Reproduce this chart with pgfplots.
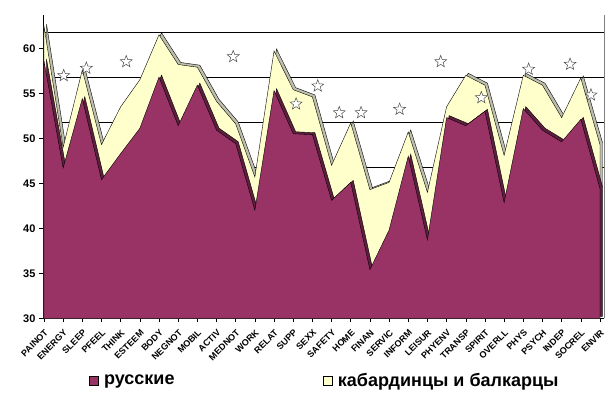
\documentclass[border=0pt]{standalone}
\usepackage{fontspec}
\setmainfont{Liberation Sans}
\usepackage{pgfplots}
\pgfplotsset{compat=1.18}
\usepackage{pgfplotstable}
\definecolor{plum}{HTML}{993366}
\definecolor{plumdark}{HTML}{5E1F3F}
\definecolor{lyellow}{HTML}{FFFFCC}
\definecolor{bandgrey}{HTML}{BEBEAE}
\pgfdeclareplotmark{ostar}{%
  \pgfpathmoveto{\pgfpointpolar{90}{\pgfplotmarksize}}%
  \pgfpathlineto{\pgfpointpolar{126}{0.42\pgfplotmarksize}}%
  \pgfpathlineto{\pgfpointpolar{162}{\pgfplotmarksize}}%
  \pgfpathlineto{\pgfpointpolar{198}{0.42\pgfplotmarksize}}%
  \pgfpathlineto{\pgfpointpolar{234}{\pgfplotmarksize}}%
  \pgfpathlineto{\pgfpointpolar{270}{0.42\pgfplotmarksize}}%
  \pgfpathlineto{\pgfpointpolar{306}{\pgfplotmarksize}}%
  \pgfpathlineto{\pgfpointpolar{342}{0.42\pgfplotmarksize}}%
  \pgfpathlineto{\pgfpointpolar{18}{\pgfplotmarksize}}%
  \pgfpathlineto{\pgfpointpolar{54}{0.42\pgfplotmarksize}}%
  \pgfpathclose
  \pgfusepathqfillstroke}
\pgfplotstableread{
i rus kab
0 58.6 62.5
1 46.7 49.0
2 54.4 57.6
3 45.4 49.3
4 48.3 53.5
5 51.1 56.5
6 56.8 61.5
7 51.4 58.2
8 55.9 57.9
9 50.9 54.1
10 49.4 51.6
11 42.0 45.7
12 55.3 59.7
13 50.5 55.4
14 50.4 54.6
15 43.1 47.0
16 45.1 51.7
17 35.4 44.3
18 39.8 45.1
19 48.0 50.7
20 38.7 44.0
21 52.3 53.5
22 51.4 57.0
23 53.0 55.9
24 42.85 48.1
25 53.3 57.0
26 50.9 55.9
27 49.6 52.3
28 52.1 56.7
29 44.4 49.3
}\datatab
\pgfplotstableread{
x y
1.03 56.96
2.21 57.78
4.29 58.51
9.87 59.07
13.15 53.81
14.28 55.81
15.40 52.84
16.54 52.84
18.55 53.22
20.69 58.51
22.81 54.51
25.28 57.67
27.44 58.22
28.53 54.81
}\startab
\begin{document}
\begin{tikzpicture}
\begin{axis}[name=ax, scale only axis, width=561pt, height=303.3pt,
  xmin=-0.05, xmax=29.21, ymin=30, ymax=63.7,
  axis x line*=bottom, axis y line*=left,
  axis line style={black, line width=0.6pt},
  ytick={30,35,...,60},
  xtick={0,...,29},
  xticklabels={PAINOT,ENERGY,SLEEP,PFEEL,THINK,ESTEEM,BODY,NEGNOT,MOBIL,ACTIV,MEDNOT,WORK,RELAT,SUPP,SEXX,SAFETY,HOME,FINAN,SERVIC,INFORM,LEISUR,PHYENV,TRANSP,SPIRIT,OVERLL,PHYS,PSYCH,INDEP,SOCREL,ENVIR},
  tick align=outside, major tick length=4pt,
  tick style={black, line width=0.5pt},
  /pgf/number format/assume math mode=true,
  y tick label style={font=\fontsize{11}{13}\selectfont\bfseries},
  x tick label style={font=\fontsize{9}{10}\selectfont\bfseries, rotate=45, anchor=east, inner sep=0.5pt, yshift=-8pt, xshift=-4pt},
  extra y ticks={46.8,51.8,56.8,61.8}, extra y tick labels={},
  extra y tick style={grid=major, major tick length=0pt, grid style={black, line width=0.5pt}},
  clip=false,
  legend columns=2,
  legend image code/.code={\draw[#1] (0pt,-4.5pt) rectangle (9pt,4.5pt);},
  legend style={draw=none, fill=none, at={(0.502,-0.205)}, anchor=center,
    font=\fontsize{18}{21}\selectfont\bfseries,
    /tikz/every odd column/.append style={column sep=4pt},
    /tikz/every even column/.append style={column sep=146pt}},
]
\addlegendimage{fill=plum, draw=black, line width=0.4pt}
\addlegendentry{русские}
\addlegendimage{fill=lyellow, draw=black, line width=0.4pt}
\addlegendentry{кабардинцы и балкарцы}
\addplot[fill=bandgrey, draw=black, line width=0.4pt, xshift=2.5pt, yshift=2pt, forget plot] table[x=i,y=kab]{\datatab} \closedcycle;
\addplot[fill=lyellow, draw=black, line width=0.4pt, forget plot] table[x=i,y=kab]{\datatab} \closedcycle;
\addplot[fill=plumdark, draw=black, line width=0.4pt, xshift=2.5pt, yshift=2pt, forget plot] table[x=i,y=rus]{\datatab} \closedcycle;
\addplot[fill=plum, draw=black, line width=0.4pt, forget plot] table[x=i,y=rus]{\datatab} \closedcycle;
\addplot[only marks, mark=ostar, mark size=6.3pt, mark options={fill=white, draw=black!70, line width=0.5pt}, forget plot] table[x=x,y=y]{\startab};
\draw[gray, line width=0.6pt] (rel axis cs:1,0) -- (rel axis cs:1,1);
\end{axis}
\pgfresetboundingbox
\path[use as bounding box] ([xshift=-43pt,yshift=-81.7pt]ax.south west) rectangle ([xshift=6pt,yshift=15pt]ax.north east);
\end{tikzpicture}
\end{document}
